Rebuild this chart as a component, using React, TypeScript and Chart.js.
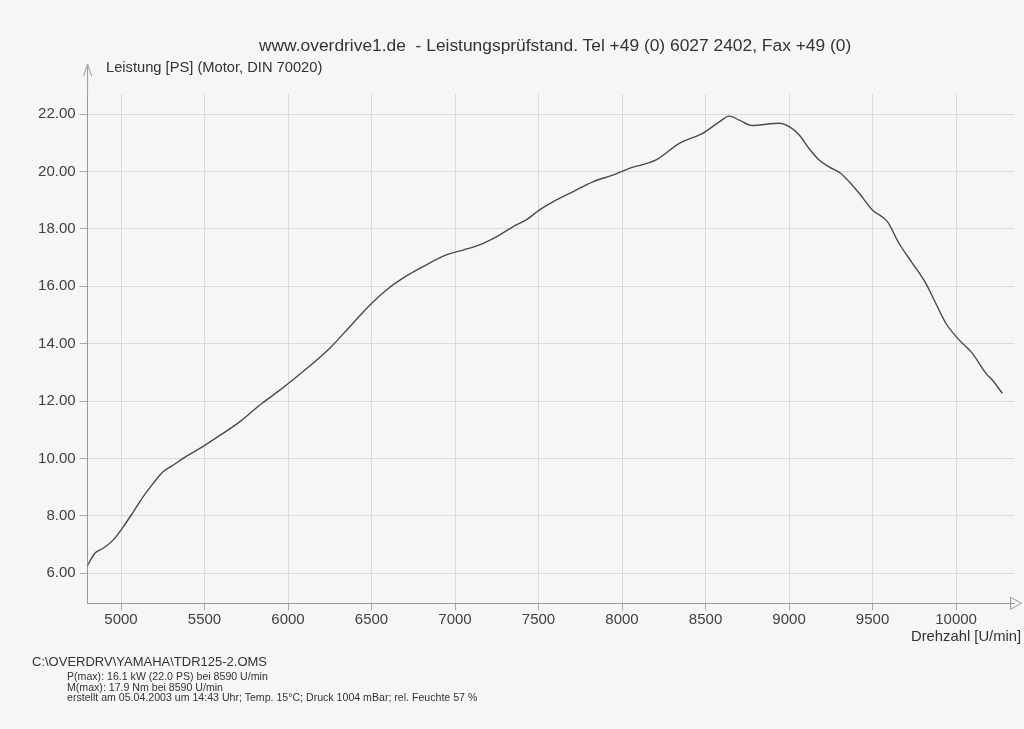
import React, { useEffect, useRef } from "react";
import { Chart, registerables } from "chart.js";

Chart.register(...registerables);

const rpm = [
  4795, 4845, 4894, 4954, 5014, 5074, 5133, 5193, 5253, 5313, 5393, 5492, 5592, 5712, 5831, 5951,
  6046, 6130, 6250, 6370, 6489, 6589, 6688, 6808, 6948, 7047, 7147, 7247, 7346, 7426, 7506, 7586,
  7705, 7825, 7944, 8044, 8204, 8343, 8483, 8583, 8642, 8702, 8780, 8822, 8941, 9001, 9061, 9120,
  9180, 9240, 9310, 9360, 9420, 9499, 9589, 9659, 9739, 9819, 9879, 9939, 10018, 10098, 10178, 10217,
  10277,
];
const leistung = [
  6.23, 6.7, 6.87, 7.16, 7.62, 8.14, 8.67, 9.13, 9.54, 9.77, 10.08, 10.42, 10.8, 11.28, 11.86, 12.38,
  12.82, 13.22, 13.84, 14.59, 15.34, 15.87, 16.28, 16.68, 17.09, 17.26, 17.44, 17.72, 18.07, 18.31, 18.66, 18.94,
  19.29, 19.64, 19.87, 20.11, 20.4, 20.98, 21.33, 21.73, 21.93, 21.79, 21.6, 21.62, 21.68, 21.56, 21.27, 20.8,
  20.4, 20.16, 19.93, 19.64, 19.24, 18.66, 18.25, 17.49, 16.8, 16.1, 15.4, 14.71, 14.13, 13.66, 12.97, 12.73,
  12.27,
];
const xTicks = [5000, 5500, 6000, 6500, 7000, 7500, 8000, 8500, 9000, 9500, 10000];
const yTicks = [6, 8, 10, 12, 14, 16, 18, 20, 22];

const titleText = "www.overdrive1.de  - Leistungsprüfstand. Tel +49 (0) 6027 2402, Fax +49 (0)";
const yLabel = "Leistung [PS] (Motor, DIN 70020)";
const xLabel = "Drehzahl [U/min]";
const fileLine = "C:\\OVERDRV\\YAMAHA\\TDR125-2.OMS";
const infoLines = [
  "P(max): 16.1 kW (22.0 PS) bei 8590 U/min",
  "M(max): 17.9 Nm bei 8590 U/min",
  "erstellt am 05.04.2003 um 14:43 Uhr; Temp. 15°C; Druck 1004 mBar; rel. Feuchte 57 %",
];

const FONT = "'Liberation Sans', Arial, sans-serif";

const axisDeco = {
  id: "axisDeco",
  afterDraw(chart: any) {
    const ctx = chart.ctx;
    const a = chart.chartArea;
    ctx.save();
    ctx.strokeStyle = "#9a9a9a";
    ctx.lineWidth = 1;
    // y axis extension + arrow
    ctx.beginPath();
    ctx.moveTo(a.left, a.top);
    ctx.lineTo(a.left, 66);
    ctx.moveTo(a.left - 4, 76);
    ctx.lineTo(a.left, 64);
    ctx.lineTo(a.left + 4, 76);
    ctx.stroke();
    // x axis arrow (hollow triangle)
    ctx.beginPath();
    ctx.moveTo(a.right - 4, a.bottom - 6);
    ctx.lineTo(a.right + 7, a.bottom);
    ctx.lineTo(a.right - 4, a.bottom + 6);
    ctx.closePath();
    ctx.stroke();
    ctx.restore();
  },
};

export default function App() {
  const ref = useRef<HTMLCanvasElement | null>(null);

  useEffect(() => {
    if (!ref.current) return;
    const chart = new Chart(ref.current, {
      type: "line",
      data: {
        datasets: [
          {
            data: rpm.map((r, i) => ({ x: r, y: leistung[i] })),
            borderColor: "#4a4a4a",
            borderWidth: 1.4,
            pointRadius: 0,
            cubicInterpolationMode: "monotone",
            fill: false,
          },
        ],
      },
      options: {
        responsive: false,
        animation: false,
        events: [],
        layout: { padding: { top: 94, right: 9.5, left: 0, bottom: 0 } },
        plugins: { legend: { display: false }, tooltip: { enabled: false }, title: { display: false } },
        scales: {
          x: {
            type: "linear",
            min: 4800,
            max: 10350,
            afterBuildTicks: (s: any) => {
              s.ticks = xTicks.map((v) => ({ value: v }));
            },
            afterFit: (s: any) => {
              s.height = 125.7;
            },
            grid: { color: "#dadada", tickColor: "#a8a8a8", tickLength: 7, drawTicks: true },
            border: { display: true, color: "#9a9a9a" },
            ticks: {
              color: "#404040",
              font: { family: FONT, size: 15 },
              padding: 1,
              maxRotation: 0,
              autoSkip: false,
              callback: (v: any) => String(v),
            },
          },
          y: {
            type: "linear",
            min: 4.95,
            max: 22.7,
            afterBuildTicks: (s: any) => {
              s.ticks = yTicks.map((v) => ({ value: v }));
            },
            afterFit: (s: any) => {
              s.width = 87.6;
            },
            grid: { color: "#dadada", tickColor: "#a8a8a8", tickLength: 8, drawTicks: true },
            border: { display: true, color: "#9a9a9a" },
            ticks: {
              color: "#404040",
              font: { family: FONT, size: 15 },
              padding: 4,
              autoSkip: false,
              callback: (v: any) => Number(v).toFixed(2),
            },
          },
        },
      },
      plugins: [axisDeco],
    } as any);
    return () => chart.destroy();
  }, []);

  const txt = (extra: React.CSSProperties): React.CSSProperties => ({
    position: "absolute",
    fontFamily: FONT,
    color: "#333",
    whiteSpace: "pre",
    lineHeight: 1,
    ...extra,
  });

  return (
    <div style={{ position: "absolute", left: 0, top: 0, width: 1024, height: 729, background: "#f6f6f8", overflow: "hidden" }}>
      <canvas ref={ref} width={1024} height={729} style={{ position: "absolute", left: 0, top: 0 }} />
      <div style={txt({ left: 259, top: 37, fontSize: 17.4 })}>{titleText}</div>
      <div style={txt({ left: 106, top: 60, fontSize: 14.7 })}>{yLabel}</div>
      <div style={txt({ left: 911, top: 629, fontSize: 14.8 })}>{xLabel}</div>
      <div style={txt({ left: 32, top: 655, fontSize: 13 })}>{fileLine}</div>
      {infoLines.map((l, i) => (
        <div key={i} style={txt({ left: 67, top: 671 + i * 10.5, fontSize: 10.6 })}>{l}</div>
      ))}
    </div>
  );
}
